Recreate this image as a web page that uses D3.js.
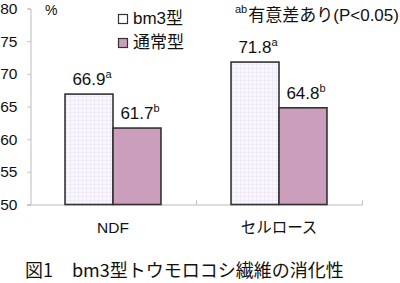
<!DOCTYPE html>
<html><head><meta charset="utf-8">
<script src="https://cdn.jsdelivr.net/npm/d3@7"></script>
<style>
body{margin:0;background:#fff;}
svg{display:block;}
text{font-family:"Liberation Sans",Arial,"Noto Sans CJK JP",sans-serif;fill:#111;}
.jp{font-family:"Noto Sans CJK JP","Liberation Sans",sans-serif;}
</style></head>
<body>
<script>
const categories = ["NDF", "セルロース"];
const seriesNames = ["bm3型", "通常型"];
const bm3Values = [66.9, 71.8];
const normalValues = [61.7, 64.8];
const bm3Marks = ["a", "a"];
const normalMarks = ["b", "b"];
const yTicks = [50, 55, 60, 65, 70, 75, 80];
const seriesColors = ["url(#bm3pat)", "#cb9fbb"];

const W = 400, H = 283;
const svg = d3.select("body").append("svg").attr("width", W).attr("height", H);

const defs = svg.append("defs");
const pat = defs.append("pattern").attr("id", "bm3pat").attr("patternUnits", "userSpaceOnUse")
  .attr("width", 4).attr("height", 4);
pat.append("rect").attr("width", 4).attr("height", 4).attr("fill", "#faf8fe");
pat.append("path").attr("d", "M0 0.5H4M0.5 0V4").attr("stroke", "#efebf7").attr("stroke-width", 1);

const y = d3.scaleLinear().domain([50, 80]).range([204.5, 8.5]);
const x0 = d3.scaleBand().domain(categories).range([30, 362]).padding(0);
const x1 = d3.scaleBand().domain(seriesNames).range([0, x0.bandwidth()]).paddingInner(0).paddingOuter(0.73);

// y axis
const yAxis = svg.append("g").attr("transform", "translate(30.5,0)")
  .call(d3.axisLeft(y).tickValues(yTicks).tickSize(3).tickPadding(10).tickFormat(d3.format("d")));
yAxis.select(".domain").attr("stroke", "#bbb");
yAxis.selectAll(".tick line").attr("stroke", "#bbb");
yAxis.selectAll(".tick text").attr("font-size", 15.5).attr("fill", "#111")
  .style("font-family", "'Liberation Sans', Arial, sans-serif");

// x axis
const xAxis = svg.append("g").attr("transform", `translate(0,${y(50) + 0.5})`)
  .call(d3.axisBottom(x0).tickSize(0).tickFormat(""));
xAxis.select(".domain").attr("stroke", "#bbb").attr("d", `M27,0H${x0.range()[1] + 1}`);
xAxis.selectAll(".tick").remove();
const bounds = [x0("セルロース"), x0.range()[1]];
svg.append("g").selectAll("line").data(bounds).join("line")
  .attr("x1", d => d + 0.5).attr("x2", d => d + 0.5)
  .attr("y1", y(50)).attr("y2", y(50) - 4).attr("stroke", "#bbb");

// category labels
svg.append("g").selectAll("text").data(categories).join("text")
  .attr("class", (d, i) => i ? "jp" : null)
  .attr("x", d => x0(d) + x0.bandwidth() / 2).attr("y", 233)
  .attr("text-anchor", "middle").attr("font-size", 15.5).text(d => d);

// bars
const data = categories.map((c, i) => ({
  cat: c,
  vals: [
    { s: seriesNames[0], v: bm3Values[i], m: bm3Marks[i], c: seriesColors[0] },
    { s: seriesNames[1], v: normalValues[i], m: normalMarks[i], c: seriesColors[1] }
  ]
}));
const groups = svg.append("g").selectAll("g").data(data).join("g")
  .attr("transform", d => `translate(${x0(d.cat)},0)`);
groups.selectAll("rect").data(d => d.vals).join("rect")
  .attr("x", d => x1(d.s)).attr("width", x1.bandwidth())
  .attr("y", d => y(d.v)).attr("height", d => y(50) - y(d.v))
  .attr("fill", d => d.c).attr("stroke", "#333").attr("stroke-width", 1.6);
const lab = groups.selectAll("text.val").data(d => d.vals).join("text").attr("class", "val")
  .attr("x", d => x1(d.s) + x1.bandwidth() / 2 + 3).attr("y", d => y(d.v) - 9)
  .attr("text-anchor", "middle").attr("font-size", 17);
lab.append("tspan").text(d => d.v.toFixed(1));
lab.append("tspan").attr("font-size", 11).attr("dy", -7).text(d => d.m);

// % label
svg.append("text").attr("x", 45).attr("y", 15).attr("font-size", 14).text("%");

// legend
const leg = svg.append("g").selectAll("g").data(seriesNames).join("g")
  .attr("transform", (d, i) => `translate(118,${14 + i * 24})`);
leg.append("rect").attr("width", 9).attr("height", 9).attr("x", 0.5).attr("y", 0.5)
  .attr("fill", (d, i) => i ? seriesColors[1] : "#fff").attr("stroke", "#333").attr("stroke-width", 1.2);
leg.append("text").attr("x", 15).attr("y", 10).attr("font-size", 17)
  .attr("class", (d, i) => i ? "jp" : null).text(d => d);

// annotation
const ann = svg.append("text").attr("x", 235).attr("y", 21).attr("font-size", 17);
ann.append("tspan").attr("font-size", 11).attr("dy", -8).text("ab");
ann.append("tspan").attr("class", "jp").attr("dy", 8).attr("dx", 1).text("有意差あり");
ann.append("tspan").text("(P<0.05)");

// title
const title = svg.append("text").attr("y", 277).attr("font-size", 18).attr("class", "jp");
title.append("tspan").attr("x", 25).text("図1");
title.append("tspan").attr("x", 72).text("bm3型トウモロコシ繊維の消化性");
</script>
</body></html>
